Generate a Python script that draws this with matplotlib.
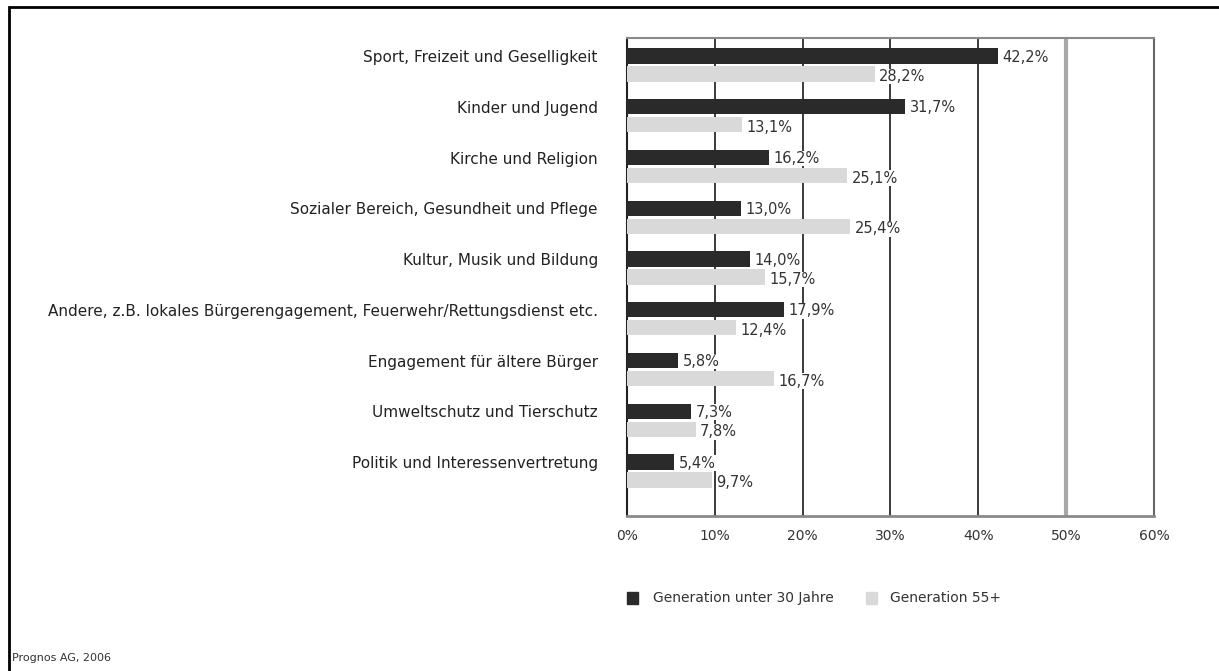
import numpy as np
import matplotlib.pyplot as plt
from matplotlib.patches import Rectangle

plt.rcParams['font.family'] = ['DejaVu Sans']

categories = [
    "Sport, Freizeit und Geselligkeit",
    "Kinder und Jugend",
    "Kirche und Religion",
    "Sozialer Bereich, Gesundheit und Pflege",
    "Kultur, Musik und Bildung",
    "Andere, z.B. lokales Bürgerengagement, Feuerwehr/Rettungsdienst etc.",
    "Engagement für ältere Bürger",
    "Umweltschutz und Tierschutz",
    "Politik und Interessenvertretung",
]
under30 = [42.2, 31.7, 16.2, 13.0, 14.0, 17.9, 5.8, 7.3, 5.4]
over55 = [28.2, 13.1, 25.1, 25.4, 15.7, 12.4, 16.7, 7.8, 9.7]
series_names = ["Generation unter 30 Jahre", "Generation 55+"]
xticks = [0, 10, 20, 30, 40, 50, 60]

dark = "#2a2a2a"
light = "#d9d9d9"
txt = "#333333"

fig = plt.figure(figsize=(12.19, 6.71), dpi=100)
ax = fig.add_axes([627 / 1219, 1 - 516 / 671, 527 / 1219, (516 - 38) / 671])

# outer frame of the whole picture (top and left visible)
fig.patches.append(Rectangle((9 / 1219, -0.05), 1.1, 1 - 7 / 671 + 0.05,
                             transform=fig.transFigure, fill=False,
                             edgecolor="black", linewidth=2))

y = np.arange(len(categories))
off = 0.177
h = 0.30
ax.barh(y - off, under30, height=h, color=dark, zorder=3)
ax.barh(y + off, over55, height=h, color=light, zorder=3)

# value labels with white background so grid lines are hidden behind them
for i in range(len(categories)):
    ax.text(under30[i] + 0.5, y[i] - off + 0.02, f"{under30[i]:.1f}%".replace(".", ","),
            va="center", ha="left", fontsize=10.5, color=txt, zorder=4,
            bbox=dict(facecolor="white", edgecolor="none", pad=0.3))
    ax.text(over55[i] + 0.5, y[i] + off + 0.05, f"{over55[i]:.1f}%".replace(".", ","),
            va="center", ha="left", fontsize=10.5, color=txt, zorder=4,
            bbox=dict(facecolor="white", edgecolor="none", pad=0.3))

# grid lines
for g in [10, 20, 30, 40]:
    ax.axvline(g, color="#3a3a3a", linewidth=1.4, zorder=1)
ax.axvline(50, color="#a8a8a8", linewidth=3, zorder=1)

ax.set_xlim(0, 60)
ax.set_ylim(8.887, -0.532)
ax.set_xticks(xticks)
ax.set_xticklabels([f"{t}%" for t in xticks], fontsize=10, color=txt)
ax.set_yticks(y - off)
ax.set_yticklabels(categories, fontsize=11, color="#222222")
ax.tick_params(length=0)
ax.tick_params(axis="x", pad=9)
ax.tick_params(axis="y", pad=21)

ax.spines["left"].set_color("#222222")
ax.spines["left"].set_linewidth(1.5)
ax.spines["bottom"].set_color("#8a8a8a")
ax.spines["bottom"].set_linewidth(2)
ax.spines["top"].set_color("#8a8a8a")
ax.spines["top"].set_linewidth(1.5)
ax.spines["right"].set_color("#666666")
ax.spines["right"].set_linewidth(1.5)

# legend
fig.patches.append(Rectangle((627 / 1219, 1 - 604 / 671), 11 / 1219, 12 / 671,
                             transform=fig.transFigure, color=dark))
fig.text(653 / 1219, 1 - 598 / 671, series_names[0], fontsize=10, va="center", color=txt)
fig.patches.append(Rectangle((866 / 1219, 1 - 604 / 671), 11 / 1219, 12 / 671,
                             transform=fig.transFigure, color=light))
fig.text(890 / 1219, 1 - 598 / 671, series_names[1], fontsize=10, va="center", color=txt)

fig.text(12 / 1219, 1 - 658 / 671, "Prognos AG, 2006", fontsize=8, va="center", color=txt)

fig.savefig("out.png", dpi=100)
